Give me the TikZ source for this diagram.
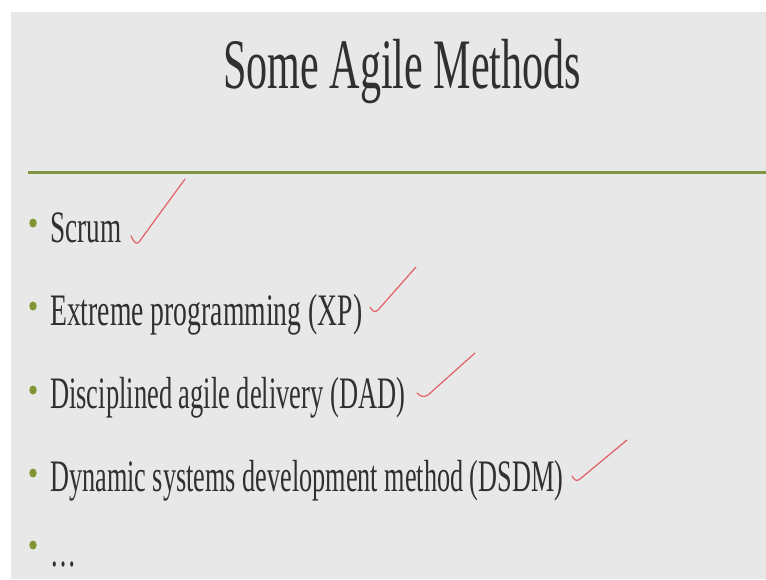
\documentclass[tikz,border=0pt]{standalone}
\usepackage{fontspec}
\setmainfont{Liberation Serif}
\usepackage{graphicx}
\definecolor{bgcol}{RGB}{232,232,232}
\definecolor{edgecol}{RGB}{255,255,255}
\definecolor{rulecol}{RGB}{128,148,66}
\definecolor{dotcol}{RGB}{128,150,50}
\definecolor{txtcol}{RGB}{48,48,48}
\definecolor{checkcol}{RGB}{226,96,104}
\newcommand\fitline[2]{\resizebox{#1}{\height}{#2}}
\tikzset{
  titletext/.style={anchor=base west, inner sep=0pt, text=txtcol, font=\fontsize{71}{80}\selectfont},
  bodytext/.style={anchor=base west, inner sep=0pt, text=txtcol, font=\fontsize{45}{50}\selectfont},
  bulletdot/.style={ellipse, fill=dotcol, inner sep=0pt, minimum width=7.5pt, minimum height=9pt},
  checkmark/.style={draw=checkcol, line width=1.2pt, line cap=round, line join=round},
}
\usetikzlibrary{shapes.geometric}
\begin{document}
\begin{tikzpicture}[x=1pt,y=-1pt]
\useasboundingbox (0,0) rectangle (766,579);
\fill[edgecol] (0,0) rectangle (766,579);
\fill[bgcol] (11,12) rectangle (766,579);
% title
\node[titletext] (title) at (223,88) {\fitline{358pt}{Some Agile Methods}};
% rule
\coordinate (ruleL) at (28,172);
\coordinate (ruleR) at (766,172);
\draw[rulecol, line width=3pt] (ruleL) -- (ruleR);
% bullets
\node[bulletdot] (b1) at (33,223) {};
\node[bulletdot] (b2) at (33,306) {};
\node[bulletdot] (b3) at (33,390) {};
\node[bulletdot] (b4) at (33,473) {};
\node[bulletdot] (b5) at (33,545) {};
% items
\node[bodytext] (t1) at (50,242) {\fitline{71pt}{Scrum}};
\node[bodytext] (t2) at (50,325) {\fitline{312pt}{Extreme programming (XP)}};
\node[bodytext] (t3) at (50,408) {\fitline{355pt}{Disciplined agile delivery (DAD)}};
\node[bodytext] (t4) at (50,491) {\fitline{513pt}{Dynamic systems development method (DSDM)}};
\node[bodytext] (t5) at (50,566) {\fitline{26pt}{\dots}};
% check marks
\draw[checkmark] (131,236) .. controls (134,242) and (136,245) .. (139,242) -- (185,179);
\draw[checkmark] (370,307) .. controls (372,311) and (375,313) .. (378,310) -- (416,267);
\draw[checkmark] (417,393) .. controls (420,396) and (424,398) .. (428,395) -- (475,353);
\draw[checkmark] (572,476) .. controls (574,480) and (577,482) .. (580,479) -- (627,440);
\end{tikzpicture}
\end{document}
